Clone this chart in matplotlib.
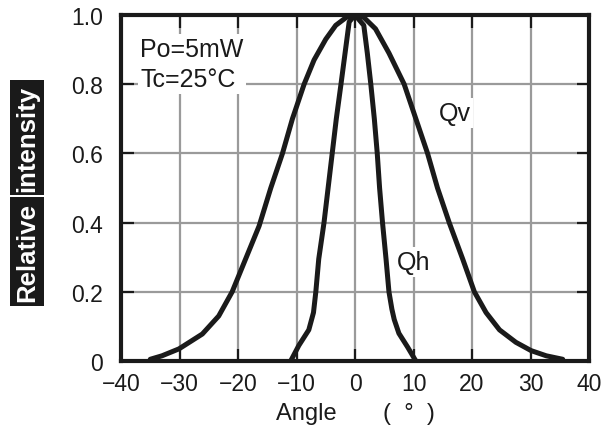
import matplotlib
matplotlib.use("Agg")
import matplotlib.pyplot as plt

plt.rcParams["font.family"] = ["Liberation Sans", "DejaVu Sans"]

# values (angle in degrees, relative intensity)
qv_angle = [-35.0, -33.0, -30.1, -26.1, -23.3, -21.0, -18.7, -16.4, -14.4, -12.4,
            -10.7, -8.7, -7.0, -5.0, -3.3, -1.5, 0.0, 1.5, 3.5, 5.8, 8.4, 10.4,
            12.4, 14.1, 16.1, 18.4, 20.4, 22.4, 24.7, 27.5, 30.1, 32.7, 35.5]
qv_int = [0.005, 0.015, 0.035, 0.078, 0.13, 0.20, 0.295, 0.39, 0.50, 0.60,
          0.70, 0.80, 0.87, 0.93, 0.97, 0.993, 1.0, 0.993, 0.96, 0.89, 0.80, 0.70,
          0.60, 0.50, 0.40, 0.295, 0.20, 0.14, 0.09, 0.054, 0.03, 0.015, 0.005]

qh_angle = [-11.0, -9.6, -7.9, -7.1, -6.7, -6.2, -5.3, -4.6, -3.9, -3.2, -2.4,
            -1.7, -1.0, 0.0, 1.5, 2.1, 2.7, 3.3, 3.8, 4.2, 4.7, 5.3, 5.8, 6.3,
            6.7, 7.5, 9.0, 10.4]
qh_int = [0.0, 0.045, 0.09, 0.14, 0.20, 0.295, 0.40, 0.50, 0.60, 0.70, 0.80,
          0.89, 0.98, 1.0, 0.97, 0.89, 0.80, 0.70, 0.60, 0.50, 0.40, 0.295, 0.20,
          0.15, 0.12, 0.08, 0.04, 0.0]

x_ticks = [-40, -30, -20, -10, 0, 10, 20, 30, 40]
y_ticks = [0, 0.2, 0.4, 0.6, 0.8, 1.0]
y_tick_labels = ["0", "0.2", "0.4", "0.6", "0.8", "1.0"]

ink = "#1a1a1a"

fig = plt.figure(figsize=(6.10, 4.39), dpi=100)
ax = fig.add_axes([0.1984, 0.1754, 0.7672, 0.7882])

for xs, ys in ((qv_angle, qv_int), (qh_angle, qh_int)):
    ax.plot(xs, ys, color=ink, lw=3.6, zorder=5, solid_capstyle="round",
            solid_joinstyle="round")

ax.set_xlim(-40, 40)
ax.set_ylim(0, 1.0)
ax.set_xticks(x_ticks)
ax.set_yticks(y_ticks)
ax.set_yticklabels(y_tick_labels)
ax.grid(True, color="#9a9a9a", lw=1.6)
ax.set_axisbelow(True)

ax.tick_params(direction="in", length=9, width=1.6, color=ink, labelsize=16.5,
               top=True, right=True, labelcolor=ink)
ax.tick_params(axis="y", pad=13)
ax.tick_params(axis="x", pad=8)
for s in ax.spines.values():
    s.set_linewidth(3)
    s.set_color(ink)

ax.set_xlabel("Angle       (  °  )", fontsize=17, color=ink, labelpad=5)

box = dict(facecolor="white", edgecolor="none", pad=2)
ax.text(-36.7, 0.858, "Po=5mW\nTc=25°C", fontsize=18, color=ink, va="center",
        ha="left", linespacing=1.35, bbox=box, zorder=3)
ax.text(17.0, 0.717, "Qv", fontsize=18, color=ink, ha="center", va="center",
        bbox=box, zorder=3)
ax.text(10.1, 0.286, "Qh", fontsize=18, color=ink, ha="center", va="center",
        bbox=box, zorder=3)

lab_box = dict(facecolor=ink, edgecolor="none", pad=3.5)
fig.text(0.0443, 0.6845, "intensity", rotation=90, fontsize=18.5, fontweight="bold",
         color="white", ha="center", va="center", bbox=lab_box)
fig.text(0.0443, 0.4248, "Relative", rotation=90, fontsize=18.5, fontweight="bold",
         color="white", ha="center", va="center", bbox=lab_box)

fig.savefig("out.png", dpi=100)
